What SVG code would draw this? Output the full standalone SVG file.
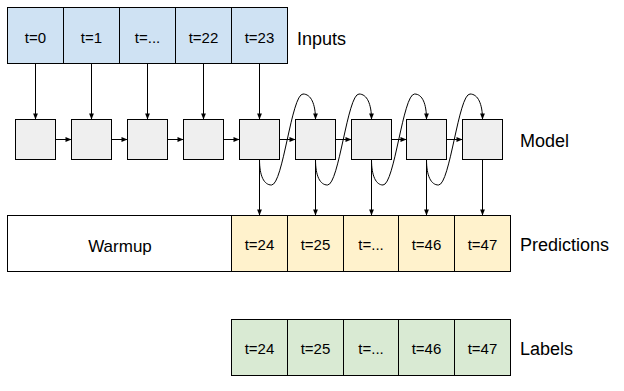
<svg xmlns="http://www.w3.org/2000/svg" width="624" height="391" viewBox="0 0 624 391">
<defs>
<marker id="ah" viewBox="0 0 10 10" refX="10" refY="5" markerWidth="7" markerHeight="6" markerUnits="userSpaceOnUse" orient="auto">
<path d="M0,1 L10,5 L0,9 Z" fill="#000"/>
</marker>
<style>
.cell{stroke:#000;stroke-width:1}
.in{fill:#cfe2f3}
.pr{fill:#fff2cc}
.lb{fill:#d9ead3}
.md{fill:#efefef;stroke:#000;stroke-width:1}
.wu{fill:#fff;stroke:#000;stroke-width:1}
.t{font-family:"Liberation Sans",Arial,sans-serif;font-size:15px;fill:#000;text-anchor:middle}
.big{font-family:"Liberation Sans",Arial,sans-serif;font-size:18px;fill:#000}
.c{fill:none;stroke:#000;stroke-width:1;marker-end:url(#ah)}
</style>
</defs>
<rect width="624" height="391" fill="#fff"/>
<g id="inputs">
<rect class="cell in" x="7.5" y="7.5" width="56" height="56"/>
<rect class="cell in" x="63.5" y="7.5" width="56" height="56"/>
<rect class="cell in" x="119.5" y="7.5" width="56" height="56"/>
<rect class="cell in" x="175.5" y="7.5" width="56" height="56"/>
<rect class="cell in" x="231.5" y="7.5" width="56" height="56"/>
<text class="t" x="35.5" y="42.5">t=0</text>
<text class="t" x="91.5" y="42.5">t=1</text>
<text class="t" x="147.5" y="42.5">t=...</text>
<text class="t" x="203.5" y="42.5">t=22</text>
<text class="t" x="259.5" y="42.5">t=23</text>
<text class="big" x="297" y="45">Inputs</text>
</g>
<g id="model">
<rect class="md" x="15.5" y="119.5" width="40" height="40"/>
<rect class="md" x="71.5" y="119.5" width="40" height="40"/>
<rect class="md" x="127.5" y="119.5" width="40" height="40"/>
<rect class="md" x="183.5" y="119.5" width="40" height="40"/>
<rect class="md" x="239.5" y="119.5" width="40" height="40"/>
<rect class="md" x="295.5" y="119.5" width="40" height="40"/>
<rect class="md" x="351.5" y="119.5" width="40" height="40"/>
<rect class="md" x="406.5" y="119.5" width="40" height="40"/>
<rect class="md" x="462.5" y="119.5" width="40" height="40"/>
<text class="big" x="520" y="147">Model</text>
</g>
<g id="predictions">
<rect class="wu" x="7.5" y="215.5" width="224" height="56"/>
<rect class="cell pr" x="231.5" y="215.5" width="56" height="56"/>
<rect class="cell pr" x="287.5" y="215.5" width="56" height="56"/>
<rect class="cell pr" x="343.5" y="215.5" width="55" height="56"/>
<rect class="cell pr" x="398.5" y="215.5" width="56" height="56"/>
<rect class="cell pr" x="454.5" y="215.5" width="56" height="56"/>
<text class="big" x="120" y="251.5" text-anchor="middle" style="font-size:17px">Warmup</text>
<text class="t" x="259.5" y="250">t=24</text>
<text class="t" x="315.5" y="250">t=25</text>
<text class="t" x="371" y="250">t=...</text>
<text class="t" x="426.5" y="250">t=46</text>
<text class="t" x="482.5" y="250">t=47</text>
<text class="big" x="520" y="251">Predictions</text>
</g>
<g id="labels">
<rect class="cell lb" x="231.5" y="319.5" width="56" height="56"/>
<rect class="cell lb" x="287.5" y="319.5" width="56" height="56"/>
<rect class="cell lb" x="343.5" y="319.5" width="55" height="56"/>
<rect class="cell lb" x="398.5" y="319.5" width="56" height="56"/>
<rect class="cell lb" x="454.5" y="319.5" width="56" height="56"/>
<text class="t" x="259.5" y="354">t=24</text>
<text class="t" x="315.5" y="354">t=25</text>
<text class="t" x="371" y="354">t=...</text>
<text class="t" x="426.5" y="354">t=46</text>
<text class="t" x="482.5" y="354">t=47</text>
<text class="big" x="520" y="355">Labels</text>
</g>
<g id="connectors">
<path class="c" d="M35.5,63.5 V119.5"/>
<path class="c" d="M91.5,63.5 V119.5"/>
<path class="c" d="M147.5,63.5 V119.5"/>
<path class="c" d="M203.5,63.5 V119.5"/>
<path class="c" d="M259.5,63.5 V119.5"/>
<path class="c" d="M55.5,139.5 H71.5"/>
<path class="c" d="M111.5,139.5 H127.5"/>
<path class="c" d="M167.5,139.5 H183.5"/>
<path class="c" d="M223.5,139.5 H239.5"/>
<path class="c" d="M279.5,139.5 H295.5"/>
<path class="c" d="M335.5,139.5 H351.5"/>
<path class="c" d="M391.5,139.5 H406.5"/>
<path class="c" d="M446.5,139.5 H462.5"/>
<path class="c" d="M259.5,159.5 C259.5,176 264,185 271.5,185 C283,185 291.5,94 303,94 C311,94 315.5,104 315.5,119.5"/>
<path class="c" d="M315.5,159.5 C315.5,176 320,185 327.5,185 C339,185 347.5,94 359,94 C367,94 371.5,104 371.5,119.5"/>
<path class="c" d="M371.5,159.5 C371.5,176 376,185 383,185 C394.5,185 403,94 414.5,94 C422.5,94 426.5,104 426.5,119.5"/>
<path class="c" d="M426.5,159.5 C426.5,176 431,185 438.5,185 C450,185 458.5,94 470,94 C478,94 482.5,104 482.5,119.5"/>
<path class="c" d="M259.5,159.5 V215.5"/>
<path class="c" d="M315.5,159.5 V215.5"/>
<path class="c" d="M371.5,159.5 V215.5"/>
<path class="c" d="M426.5,159.5 V215.5"/>
<path class="c" d="M482.5,159.5 V215.5"/>
</g>
</svg>
